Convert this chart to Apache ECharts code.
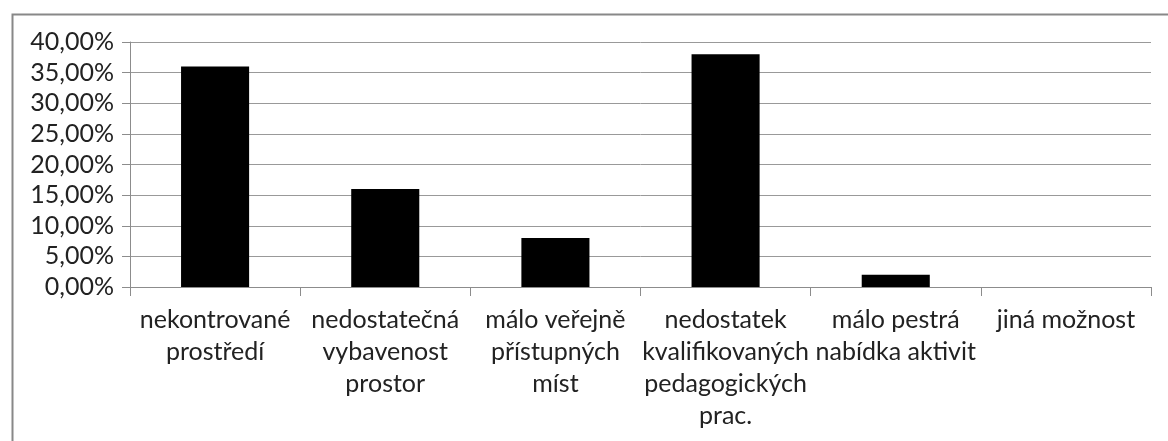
<!DOCTYPE html>
<html>
<head>
<meta charset="utf-8">
<script src="https://cdn.jsdelivr.net/npm/echarts@6/dist/echarts.min.js"></script>
<style>
  html, body { margin: 0; padding: 0; background: #fff; }
  #chart { width: 1168px; height: 441px; }
</style>
</head>
<body>
<div id="chart"></div>
<script>
const categories = [
  "nekontrované\nprostředí",
  "nedostatečná\nvybavenost\nprostor",
  "málo veřejně\npřístupných\nmíst",
  "nedostatek\nkvalifikovaných\npedagogických\nprac.",
  "málo pestrá\nnabídka aktivit",
  "jiná možnost"
];
const shares = [0.36, 0.16, 0.08, 0.38, 0.02, 0];

const yMin = 0;
const yMax = 0.4;
const yStep = 0.05;

const font = "Lato, 'Open Sans', sans-serif";
const textColor = "#222";

const chart = echarts.init(document.getElementById("chart"), null, { renderer: "canvas" });

chart.setOption({
  animation: false,
  backgroundColor: "#fff",
  graphic: [{
    type: "rect",
    left: 10, top: 12,
    shape: { width: 1200, height: 500 },
    style: { fill: "none", stroke: "#888", lineWidth: 2 },
    z: -1
  }],
  grid: { left: 130, right: 17, top: 42, bottom: 154, containLabel: false, outerBoundsMode: "none" },
  xAxis: {
    type: "category",
    data: categories,
    boundaryGap: true,
    axisLine: { show: true, lineStyle: { color: "#8c8c8c", width: 1 } },
    axisTick: { show: true, length: 9, alignWithLabel: false, lineStyle: { color: "#8c8c8c" } },
    axisLabel: {
      interval: 0, margin: 17, color: textColor,
      fontFamily: font, fontSize: 25, lineHeight: 32, align: "center"
    },
    splitLine: { show: false }
  },
  yAxis: {
    type: "value",
    min: yMin, max: yMax, interval: yStep,
    axisLine: { show: true, lineStyle: { color: "#8c8c8c", width: 1 } },
    axisTick: { show: true, length: 8, lineStyle: { color: "#8c8c8c" } },
    axisLabel: {
      margin: 16, color: textColor, fontFamily: font, fontSize: 25,
      formatter: v => (v * 100).toFixed(2).replace(".", ",") + "%"
    },
    splitLine: { show: true, lineStyle: { color: "#999", width: 1 } }
  },
  series: [{
    type: "bar",
    data: shares,
    barCategoryGap: "60%",
    itemStyle: { color: "#000" }
  }]
});
</script>
</body>
</html>
